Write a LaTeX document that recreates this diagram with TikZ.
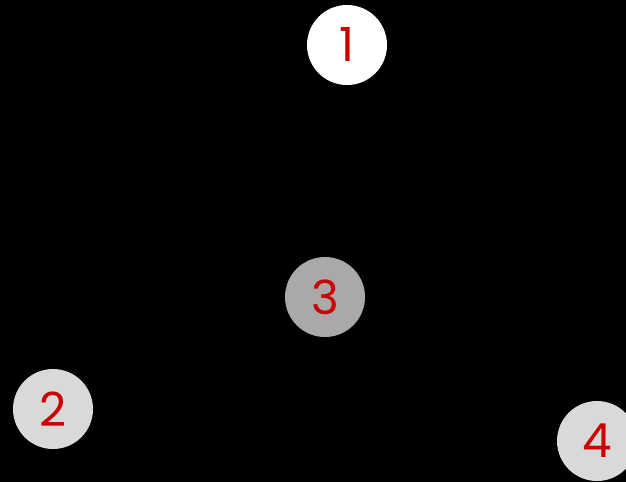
\documentclass[tikz,border=0pt]{standalone}
\usepackage{fontspec}
\setmainfont{Poppins}
\usetikzlibrary{positioning}
\definecolor{darkred}{RGB}{204,0,0}
\definecolor{midgrey}{RGB}{169,169,169}
\definecolor{lightgrey}{RGB}{217,217,217}
\tikzset{
    % common look of a vertex
    vertex/.style={
        circle,
        minimum size=80pt,
        inner sep=0pt,
        text=darkred,
        font=\fontsize{47}{47}\selectfont,
    },
    % vertex colours
    top/.style={vertex, fill=white},
    inner/.style={vertex, fill=midgrey},
    leaf/.style={vertex, fill=lightgrey},
}

\begin{document}
\begin{tikzpicture}[x=1pt,y=-1pt]
% Background
\fill[black] (0,0) rectangle (626,482);
\useasboundingbox (0,0) rectangle (626,482);
% Vertices
\node[top] (v1) at (347,45) {1};
\node[leaf] (v2) at (53,409) {2};
\node[inner] (v3) at (325,297) {3};
\node[leaf] (v4) at (597,441) {4};
\end{tikzpicture}
\end{document}
